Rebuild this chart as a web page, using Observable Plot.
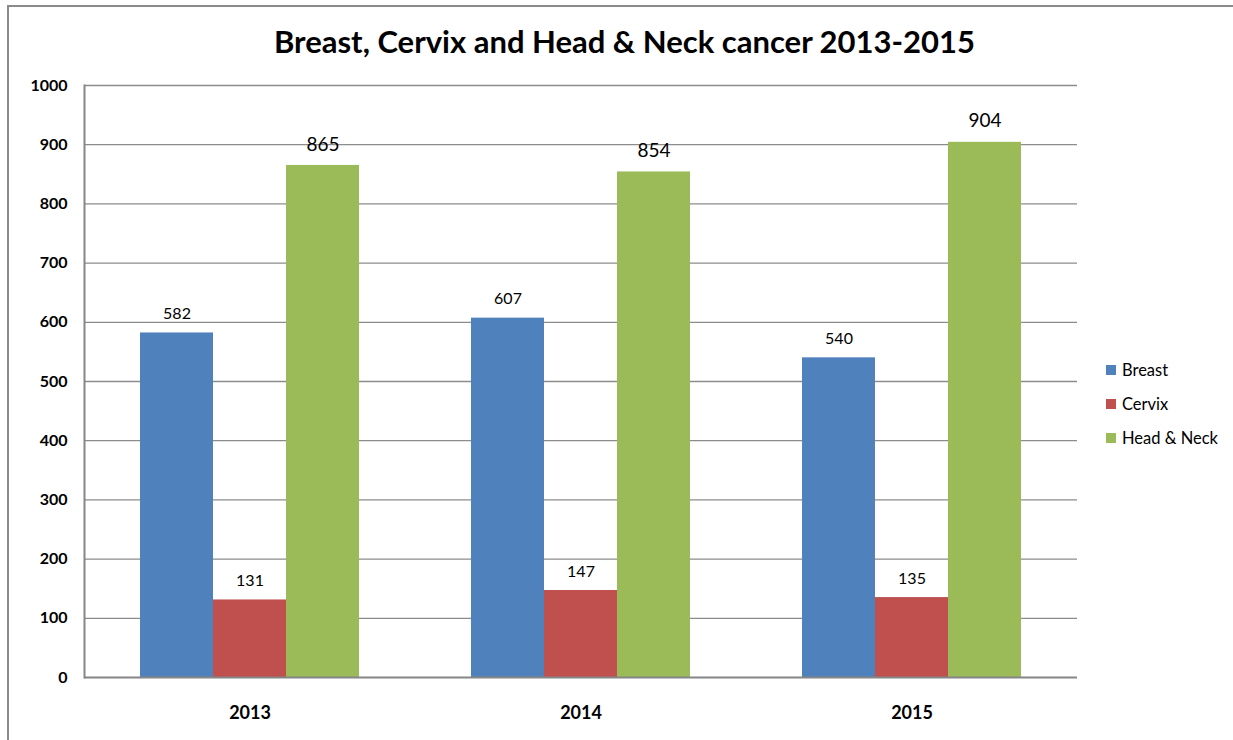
<!DOCTYPE html>
<html>
<head>
<meta charset="utf-8">
<script src="https://cdn.jsdelivr.net/npm/d3@7"></script>
<script src="https://cdn.jsdelivr.net/npm/@observablehq/plot@0.6"></script>
<style>
  html, body { margin: 0; padding: 0; background: #fff; width: 1233px; height: 740px; overflow: hidden; font-family: Lato, "Open Sans", sans-serif; }
  #border { position: absolute; left: 7px; top: 5px; width: 1400px; height: 900px; border-left: 2px solid #8a8a8a; border-top: 2px solid #8a8a8a; }
  #title { position: absolute; left: 0; top: 22px; width: 1249px; text-align: center; font-size: 31px; font-weight: bold; color: #000; }
  #chart { position: absolute; left: 0; top: 60px; }
  #legend { position: absolute; left: 1106px; top: 359px; font-size: 16.5px; color: #000; }
  #legend .row { height: 34px; display: flex; align-items: flex-start; line-height: 22px; }
  #legend .sw { width: 10px; height: 10px; margin-top: 6px; margin-right: 6px; }
</style>
</head>
<body>
<div id="border"></div>
<div id="title">Breast, Cervix and Head &amp; Neck cancer 2013-2015</div>
<div id="chart"></div>
<div id="legend"></div>
<script>
const years = ["2013", "2014", "2015"];
const series = ["Breast", "Cervix", "Head & Neck"];
const breast = [582, 607, 540];
const cervix = [131, 147, 135];
const headNeck = [865, 854, 904];
const colors = ["#4F81BD", "#C0504D", "#9BBB59"];
const yTicks = [0, 100, 200, 300, 400, 500, 600, 700, 800, 900, 1000];

const seriesValues = [breast, cervix, headNeck];
const data = [];
years.forEach((yr, i) => {
  series.forEach((s, j) => data.push({year: yr, series: s, value: seriesValues[j][i]}));
});
const small = data.filter(d => d.series !== "Head & Neck");
const big = data.filter(d => d.series === "Head & Neck");

const plot = Plot.plot({
  width: 1233,
  height: 680,
  marginLeft: 84,
  marginRight: 156,
  marginTop: 25,
  marginBottom: 63,
  style: {fontFamily: "Lato, 'Open Sans', sans-serif", background: "transparent", color: "#000"},
  fx: {domain: years, padding: 0},
  x: {domain: series, paddingInner: 0, paddingOuter: 0.75, axis: null},
  y: {domain: [0, 1000], axis: null},
  color: {domain: series, range: colors},
  marks: [
    Plot.gridY(yTicks.slice(1), {stroke: "#8c8c8c", strokeOpacity: 1, strokeWidth: 1.3}),
    Plot.barY(data, {fx: "year", x: "series", y: "value", fill: "series"}),
    Plot.ruleY([0], {stroke: "#868686", strokeWidth: 2}),
    Plot.frame({anchor: "left", facetAnchor: "left", stroke: "#868686", strokeWidth: 2}),
    Plot.axisY(yTicks, {anchor: "left", tickSize: 0, tickPadding: 17, fontSize: 16, fontWeight: "bold", label: null, tickFormat: d => String(d)}),
    Plot.text(small, {fx: "year", x: "series", y: "value", text: d => String(d.value), dy: -19, fontSize: 16}),
    Plot.text(big, {fx: "year", x: "series", y: "value", text: d => String(d.value), dy: -21, fontSize: 19}),
    Plot.axisFx({anchor: "bottom", tickSize: 0, tickPadding: 29, fontSize: 18, fontWeight: "bold", label: null})
  ]
});
document.getElementById("chart").appendChild(plot);

const legend = document.getElementById("legend");
series.forEach((s, j) => {
  const row = document.createElement("div");
  row.className = "row";
  const sw = document.createElement("div");
  sw.className = "sw";
  sw.style.background = colors[j];
  const label = document.createElement("span");
  label.textContent = s;
  row.appendChild(sw);
  row.appendChild(label);
  legend.appendChild(row);
});
</script>
</body>
</html>
